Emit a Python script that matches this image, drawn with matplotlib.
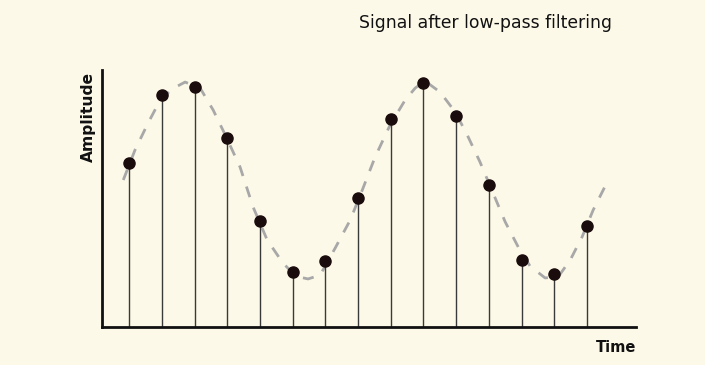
import matplotlib.pyplot as plt

plt.rcParams['font.family'] = ['Liberation Sans Narrow', 'DejaVu Sans']

# sampled values (arbitrary amplitude units, axis top = 100)
samples = [63.8, 90.3, 93.4, 73.5, 41.2, 21.4, 25.7, 50.2, 80.9, 94.9, 82.1, 55.3, 26.1, 20.6, 39.3]
sample_x = list(range(len(samples)))

# filtered signal
curve_x = [-0.18, 0.18, 0.58, 0.95, 1.31, 1.71, 2.17, 2.57, 2.94, 3.39, 3.79, 4.22, 4.68, 5.08,
           5.47, 5.84, 6.30, 6.76, 7.13, 7.52, 7.98, 8.44, 8.75, 9.05, 9.51, 9.97, 10.34, 10.73,
           11.13, 11.50, 11.90, 12.26, 12.72, 13.12, 13.49, 13.85, 14.19, 14.62]
curve_y = [57.2, 68.9, 79.4, 88.3, 92.6, 95.3, 93.0, 84.4, 74.7, 62.3, 46.7, 33.9, 25.3, 19.8,
           18.7, 20.2, 30.7, 41.6, 53.3, 66.1, 78.6, 88.3, 93.0, 95.7, 91.4, 83.7, 74.7, 64.2,
           52.1, 40.9, 31.1, 23.7, 19.1, 19.5, 26.1, 35.0, 45.5, 56.4]

bg = "#fdf9e8"
fig = plt.figure(figsize=(7.05, 3.65), dpi=100, facecolor=bg)
ax = fig.add_axes([0.1447, 0.1041, 0.7574, 0.7041])
ax.set_facecolor(bg)

ax.plot(curve_x, curve_y, color="#a8a8a8", lw=2, dashes=(4, 4), zorder=1)
ax.vlines(sample_x, 0, samples, color="#3a3a3a", lw=1, zorder=2)
ax.plot(sample_x, samples, "o", color="#1a0c0c", markersize=8, zorder=3)

ax.set_xlim(-0.83, 15.5)
ax.set_ylim(0, 100)
ax.set_xticks([])
ax.set_yticks([])
for s in ["top", "right"]:
    ax.spines[s].set_visible(False)
for s in ["left", "bottom"]:
    ax.spines[s].set_linewidth(2)
    ax.spines[s].set_color("#111111")

fig.text(88 / 705, 1 - 117 / 365, "Amplitude", rotation=90, ha="center", va="center",
         fontsize=11.2, fontweight="bold", color="#111111")
fig.text(636 / 705, 1 - 347 / 365, "Time", ha="right", va="center",
         fontsize=10.5, fontweight="bold", color="#111111")
fig.text(359 / 705, 1 - 23 / 365, "Signal after low-pass filtering", ha="left", va="center",
         fontsize=12.4, color="#111111")

fig.savefig("out.png", dpi=100, facecolor=bg)
